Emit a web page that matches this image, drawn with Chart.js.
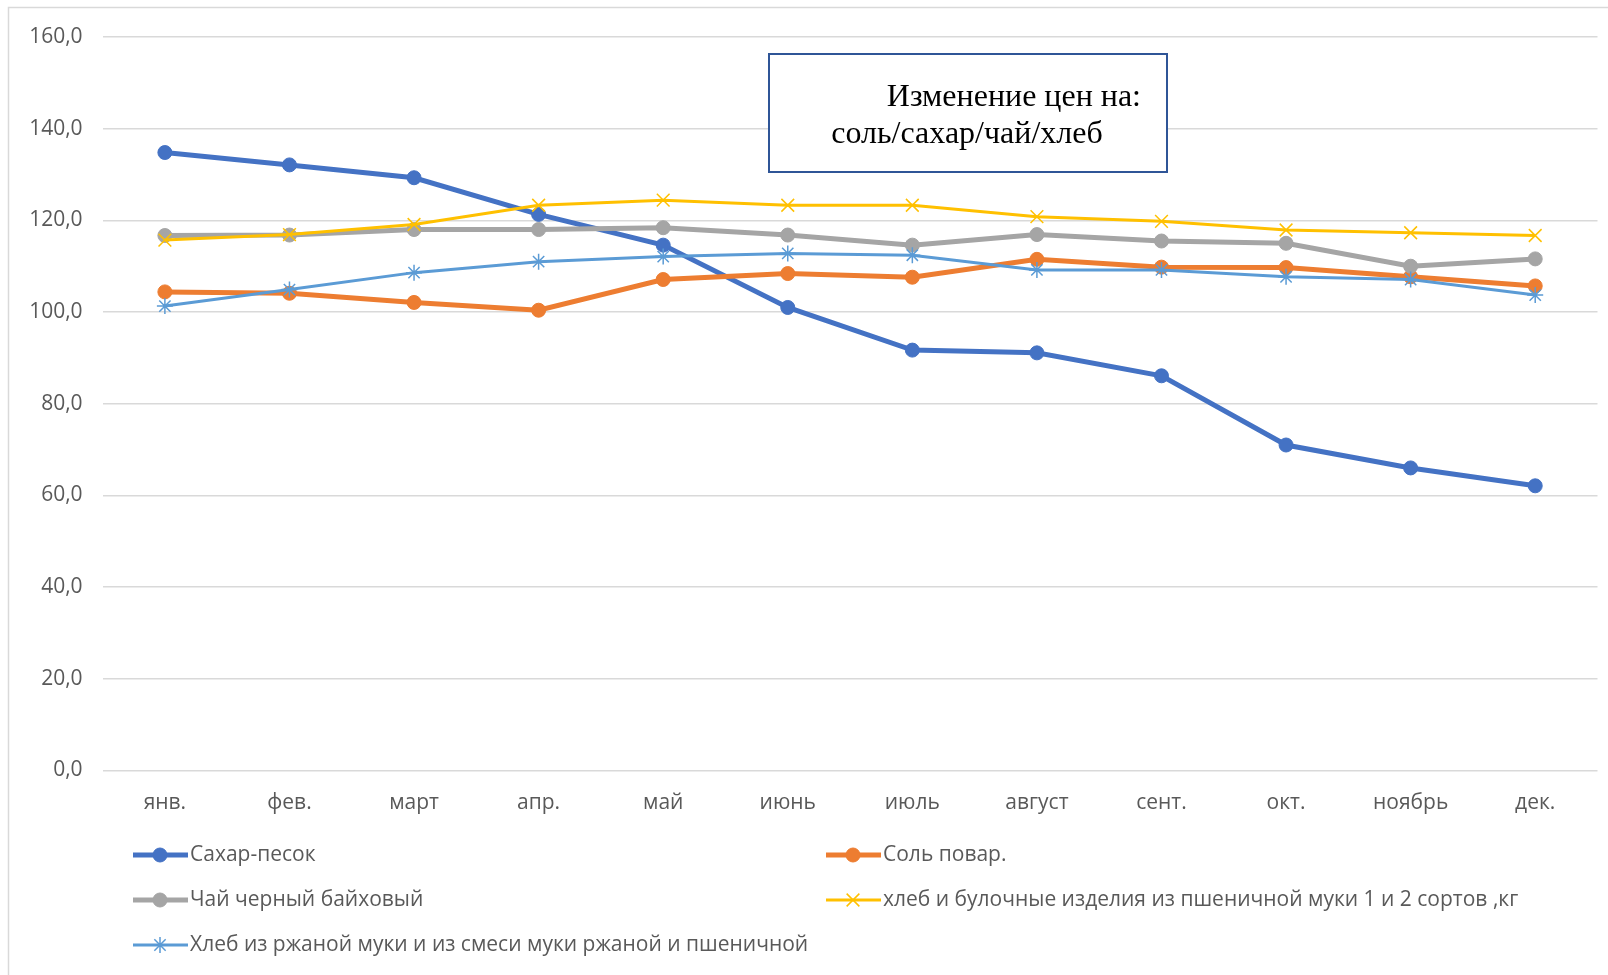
<!DOCTYPE html>
<html><head><meta charset="utf-8">
<script src="https://cdn.jsdelivr.net/npm/chart.js@4.4.0/dist/chart.umd.min.js"></script>
<style>html,body{margin:0;padding:0;background:#fff;overflow:hidden}</style>
</head><body>
<canvas id="c" width="1608" height="975"></canvas>
<script>
const months = ['янв.','фев.','март','апр.','май','июнь','июль','август','сент.','окт.','ноябрь','дек.'];
const sugar = [134.8,132.1,129.3,121.3,114.6,101.0,91.7,91.1,86.1,71.0,66.0,62.1];
const salt = [104.4,104.1,102.1,100.4,107.1,108.4,107.6,111.5,109.8,109.7,107.7,105.7];
const tea = [116.7,116.8,118.0,118.0,118.4,116.8,114.6,116.9,115.5,115.0,110.0,111.6];
const wheatBread = [115.7,116.9,119.1,123.3,124.4,123.3,123.3,120.8,119.8,117.9,117.3,116.7];
const ryeBread = [101.3,104.9,108.6,111.0,112.1,112.8,112.4,109.2,109.2,107.7,107.1,103.7];
const seriesNames = ['Сахар-песок','Соль повар.','Чай черный байховый','хлеб и булочные изделия из пшеничной муки 1 и 2 сортов ,кг','Хлеб из ржаной муки и из смеси муки ржаной и пшеничной'];
const titleLines = ['Изменение цен на:','соль/сахар/чай/хлеб'];
const yMin = 0, yMax = 160, yStep = 20;

const FONT = '"Open Sans", sans-serif';
const TICK_COLOR = '#595959';

function ds(label, data, color, width, style, radius, order, pbw) {
  return {label, data, borderColor: color, backgroundColor: color, borderWidth: width,
    pointStyle: style, pointRadius: radius, pointBorderWidth: pbw, pointBorderColor: color,
    pointBackgroundColor: color, tension: 0, order, fill: false};
}

const bgPlugin = {
  id: 'bg',
  beforeDraw(chart) {
    const ctx = chart.ctx;
    ctx.save();
    ctx.fillStyle = '#fff';
    ctx.fillRect(0, 0, chart.width, chart.height);
    ctx.strokeStyle = '#D9D9D9';
    ctx.lineWidth = 1.5;
    ctx.strokeRect(8.5, 7.5, 1700, 1100);
    ctx.restore();
  }
};

const titlePlugin = {
  id: 'titleBox',
  afterDraw(chart) {
    const ctx = chart.ctx;
    ctx.save();
    ctx.fillStyle = '#fff';
    ctx.fillRect(769, 54, 398, 118);
    ctx.strokeStyle = '#2F5597';
    ctx.lineWidth = 2;
    ctx.strokeRect(769, 54, 398, 118);
    ctx.fillStyle = '#000';
    ctx.font = '32px "Liberation Serif", "Times New Roman", serif';
    ctx.textBaseline = 'alphabetic';
    ctx.textAlign = 'right';
    ctx.fillText(titleLines[0], 1141, 106);
    ctx.textAlign = 'center';
    ctx.fillText(titleLines[1], 967, 143);
    ctx.restore();
  }
};

const legendPlugin = {
  id: 'gridLegend',
  afterDraw(chart) {
    const ctx = chart.ctx;
    const cols = [133, 826];
    const rows = [855, 900, 945];
    ctx.save();
    chart.data.datasets.forEach((d, i) => {
      const x = cols[i % 2], y = rows[Math.floor(i / 2)];
      ctx.strokeStyle = d.borderColor;
      ctx.fillStyle = d.borderColor;
      ctx.lineWidth = d.borderWidth;
      ctx.lineCap = 'butt';
      ctx.beginPath();
      ctx.moveTo(x, y);
      ctx.lineTo(x + 55, y);
      ctx.stroke();
      ctx.lineWidth = d.pointBorderWidth;
      Chart.helpers.drawPoint(ctx, {pointStyle: d.pointStyle, radius: d.pointRadius, rotation: 0, borderWidth: d.pointBorderWidth}, x + 27, y);
      ctx.fillStyle = TICK_COLOR;
      ctx.font = '21px ' + FONT;
      ctx.textAlign = 'left';
      ctx.textBaseline = 'middle';
      ctx.fillText(d.label, x + 57, y);
    });
    ctx.restore();
  }
};

new Chart(document.getElementById('c'), {
  type: 'line',
  data: {
    labels: months,
    datasets: [
      ds(seriesNames[0], sugar, '#4472C4', 5, 'circle', 7, 5, 1),
      ds(seriesNames[1], salt, '#ED7D31', 5, 'circle', 7, 4, 1),
      ds(seriesNames[2], tea, '#A5A5A5', 5, 'circle', 7, 3, 1),
      ds(seriesNames[3], wheatBread, '#FFC000', 3, 'crossRot', 9, 2, 1.5),
      ds(seriesNames[4], ryeBread, '#5B9BD5', 3, 'star', 8, 1, 1.5)
    ]
  },
  options: {
    responsive: false,
    animation: false,
    devicePixelRatio: 1,
    layout: {padding: {left: 0, right: 10, top: 37, bottom: 150}},
    plugins: {legend: {display: false}, title: {display: false}, tooltip: {enabled: false}},
    scales: {
      x: {
        offset: true,
        grid: {display: false, drawTicks: false},
        border: {display: false},
        ticks: {color: TICK_COLOR, font: {family: FONT, size: 21}, padding: 20, maxRotation: 0, autoSkip: false},
        afterFit(s) { s.height = 54.5; }
      },
      y: {
        min: yMin, max: yMax,
        grid: {color: '#D9D9D9', lineWidth: 1.5, drawTicks: false},
        border: {display: false},
        ticks: {stepSize: yStep, color: TICK_COLOR, font: {family: FONT, size: 21}, padding: 20,
          callback: v => v.toFixed(1).replace('.', ',')},
        afterFit(s) { s.width = 102.6; }
      }
    }
  },
  plugins: [bgPlugin, titlePlugin, legendPlugin]
});
</script>
</body></html>
